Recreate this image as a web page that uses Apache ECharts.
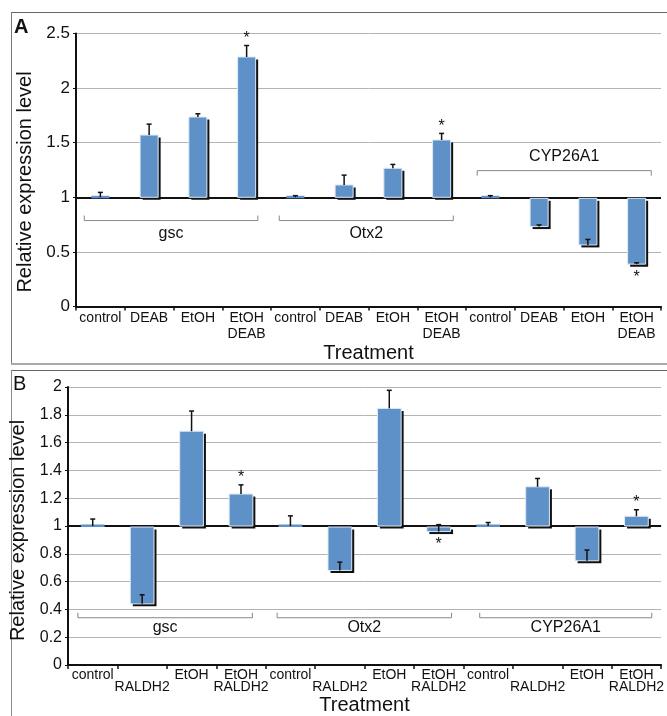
<!DOCTYPE html>
<html>
<head>
<meta charset="utf-8">
<script src="https://cdn.jsdelivr.net/npm/echarts@6/dist/echarts.min.js"></script>
<style>html,body{margin:0;padding:0;background:#fff}#c{width:667px;height:716px}</style>
</head>
<body>
<div id="c"></div>
<script>
// ---------- data ----------
const groupNames = ['gsc', 'Otx2', 'CYP26A1'];
const treatmentsA = ['control', 'DEAB', 'EtOH', 'EtOH\nDEAB'];
const treatmentsB = ['control', '\nRALDH2', 'EtOH', 'EtOH\nRALDH2'];
const categoriesA = [].concat(treatmentsA, treatmentsA, treatmentsA);
const categoriesB = [].concat(treatmentsB, treatmentsB, treatmentsB);

const valuesA = [1.0, 1.57, 1.735, 2.285, 1.0, 1.113, 1.266, 1.525, 1.0, 0.732, 0.564, 0.388];
const errorsA = [0.045, 0.10, 0.03, 0.105, 0.015, 0.09, 0.035, 0.06, 0.015, 0.015, 0.05, 0.012];
const starsA = [0, 0, 0, 1, 0, 0, 0, 1, 0, 0, 0, 1];

const valuesB = [1.0, 0.44, 1.682, 1.23, 1.0, 0.68, 1.846, 0.96, 1.0, 1.282, 0.75, 1.07];
const errorsB = [0.05, 0.065, 0.145, 0.066, 0.073, 0.06, 0.13, 0.05, 0.025, 0.06, 0.077, 0.047];
const starsB = [0, 0, 0, 1, 0, 0, 0, 1, 0, 0, 0, 1];

const yTicksA = [0, 0.5, 1, 1.5, 2, 2.5];
const yTicksB = [0, 0.2, 0.4, 0.6, 0.8, 1, 1.2, 1.4, 1.6, 1.8, 2];

// ---------- annotation layout (group brackets) ----------
const bracketsA = { start: [0.17, 4.17, 8.23], end: [3.73, 7.74, 11.8], y: [0.787, 0.787, 1.244], labelY: [0.67, 0.67, 1.37] };
const bracketsB = { start: [0.2, 4.23, 8.33], end: [3.73, 7.76, 11.81], y: [0.34, 0.34, 0.34], labelY: [0.272, 0.272, 0.272] };

const FONT = 'Liberation Sans, Arial, Helvetica, sans-serif';
const BAR = '#5e91c8';

function barRenderer(ratio) {
  return function (params, api) {
    const i = api.value(0), v = api.value(1), e = api.value(2), s = api.value(3);
    const c = api.coord([i, v]);
    const b = api.coord([i, 1]);
    const t = api.coord([i, v + e]);
    const band = api.size([1, 0])[0];
    const w = band * ratio;
    const x0 = c[0] - w / 2;
    let y1, h;
    const children = [];
    const flat = Math.abs(c[1] - b[1]) < 2.5;
    if (flat) { h = 2.5; y1 = b[1] - 1.5; }
    else if (v > 1) { y1 = c[1]; h = b[1] - c[1]; }
    else { y1 = b[1] + 1; h = c[1] - b[1] - 1; }
    if (!flat) {
      children.push({ type: 'rect', shape: { x: x0 + 2.5, y: y1 + 2.5, width: w, height: h }, style: { fill: '#111' } });
    }
    children.push({ type: 'rect', shape: { x: x0, y: y1, width: w, height: h }, style: { fill: BAR, stroke: flat ? null : '#dfe9f5', lineWidth: 1 } });
    children.push({ type: 'line', shape: { x1: c[0], y1: c[1], x2: c[0], y2: t[1] }, style: { stroke: '#111', lineWidth: 1.5 } });
    children.push({ type: 'line', shape: { x1: c[0] - 2.5, y1: t[1], x2: c[0] + 2.5, y2: t[1] }, style: { stroke: '#111', lineWidth: 1.5 } });
    if (s) {
      const sy = v > 1 ? t[1] - 7 : c[1] + 13;
      children.push({ type: 'text', style: { text: '*', x: c[0], y: sy, align: 'center', verticalAlign: 'middle', fontSize: 16, fontFamily: FONT, fill: '#111' } });
    }
    return { type: 'group', children: children };
  };
}

function bracketRenderer(br) {
  return function (params, api) {
    const k = params.dataIndex;
    const band = api.size([1, 0])[0];
    const c0 = api.coord([0, br.y[k]]);
    const xs = c0[0] - band / 2 + br.start[k] * band;
    const xe = c0[0] - band / 2 + br.end[k] * band;
    const y = c0[1];
    const ly = api.coord([0, br.labelY[k]])[1];
    const dir = br.labelY[k] < br.y[k] ? -5 : 5;
    return {
      type: 'group', children: [
        { type: 'polyline', shape: { points: [[xs, y + dir], [xs, y], [xe, y], [xe, y + dir]] }, style: { stroke: '#888', lineWidth: 1, fill: null } },
        { type: 'text', style: { text: groupNames[k], x: (xs + xe) / 2, y: ly, align: 'center', verticalAlign: 'middle', fontSize: 16, fontFamily: FONT, fill: '#111' } }
      ]
    };
  };
}

const dataA = valuesA.map((v, i) => [i, v, errorsA[i], starsA[i]]);
const dataB = valuesB.map((v, i) => [i, v, errorsB[i], starsB[i]]);
const brDataA = groupNames.map((g, k) => [k]);
const brDataB = groupNames.map((g, k) => [k]);

function xAxisCfg(gi, cats, lh, gap) {
  return {
    gridIndex: gi, type: 'category', data: cats,
    axisLine: { lineStyle: { color: '#111', width: 2 } },
    axisTick: { show: true, interval: 0, length: 4, lineStyle: { color: '#111', width: 1.5 } },
    axisLabel: { interval: 0, fontSize: 14, fontFamily: FONT, color: '#111', lineHeight: lh, margin: 4 },
    name: 'Treatment', nameLocation: 'middle', nameGap: gap,
    nameTextStyle: { fontSize: 20, fontFamily: FONT, color: '#111' }
  };
}
function yAxisCfg(gi, max, interval, fs, gap, pad) {
  return {
    gridIndex: gi, type: 'value', min: 0, max: max, interval: interval,
    axisLine: { show: true, lineStyle: { color: '#111', width: 2 } },
    axisTick: { show: true, length: 3, lineStyle: { color: '#111' } },
    axisLabel: { fontSize: fs, fontFamily: FONT, color: '#111', margin: 6 },
    splitLine: { show: true, lineStyle: { color: '#b4b4b4', width: 1 } },
    name: 'Relative expression level', nameLocation: 'middle', nameGap: gap, nameRotate: 90,
    nameTextStyle: { fontSize: 20, fontFamily: FONT, color: '#111', padding: [0, pad, 0, 0] }
  };
}

const chart = echarts.init(document.getElementById('c'), null, { renderer: 'canvas' });
chart.setOption({
  animation: false,
  backgroundColor: '#fff',
  grid: [
    { left: 76, top: 33.5, width: 585, height: 273 },
    { left: 68, top: 387, width: 594, height: 285 }
  ],
  xAxis: [xAxisCfg(0, categoriesA, 16, 33), xAxisCfg(1, categoriesB, 12, 30)],
  yAxis: [yAxisCfg(0, yTicksA[yTicksA.length - 1], yTicksA[1], 17, 33, 24), yAxisCfg(1, yTicksB[yTicksB.length - 1], yTicksB[1], 16, 31, 9)],
  graphic: [
    { type: 'line', shape: { x1: 11, y1: 12.5, x2: 667, y2: 12.5 }, style: { stroke: '#666', lineWidth: 1 } },
    { type: 'line', shape: { x1: 11.5, y1: 12, x2: 11.5, y2: 364 }, style: { stroke: '#777', lineWidth: 1 } },
    { type: 'line', shape: { x1: 11, y1: 364, x2: 667, y2: 364 }, style: { stroke: '#aaa', lineWidth: 2 } },
    { type: 'line', shape: { x1: 11, y1: 370.5, x2: 667, y2: 370.5 }, style: { stroke: '#666', lineWidth: 1 } },
    { type: 'line', shape: { x1: 11.5, y1: 370, x2: 11.5, y2: 716 }, style: { stroke: '#888', lineWidth: 1 } },
    { type: 'text', left: 14, top: 17, style: { text: 'A', fontSize: 20, fontWeight: 'bold', fontFamily: FONT, fill: '#111' } },
    { type: 'text', left: 13, top: 374, style: { text: 'B', fontSize: 20, fontFamily: FONT, fill: '#111' } }
  ],
  series: [
    { type: 'line', xAxisIndex: 0, yAxisIndex: 0, data: [], z: 1, zlevel: 0,
      markLine: { silent: true, z: 1, symbol: 'none', label: { show: false }, lineStyle: { color: '#111', width: 2, type: 'solid' }, data: [{ yAxis: 1 }] } },
    { type: 'line', xAxisIndex: 1, yAxisIndex: 1, data: [], z: 1, zlevel: 0,
      markLine: { silent: true, z: 1, symbol: 'none', label: { show: false }, lineStyle: { color: '#111', width: 2, type: 'solid' }, data: [{ yAxis: 1 }] } },
    { type: 'custom', xAxisIndex: 0, yAxisIndex: 0, z: 10, renderItem: barRenderer(0.37), data: dataA, clip: false },
    { type: 'custom', xAxisIndex: 1, yAxisIndex: 1, z: 10, renderItem: barRenderer(0.48), data: dataB, clip: false },
    { type: 'custom', xAxisIndex: 0, yAxisIndex: 0, z: 10, renderItem: bracketRenderer(bracketsA), data: brDataA, clip: false },
    { type: 'custom', xAxisIndex: 1, yAxisIndex: 1, z: 10, renderItem: bracketRenderer(bracketsB), data: brDataB, clip: false }
  ]
});
</script>
</body>
</html>
